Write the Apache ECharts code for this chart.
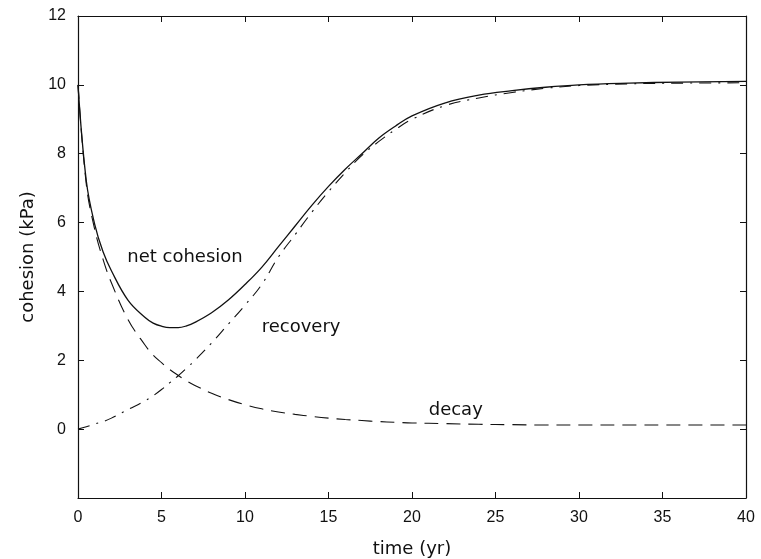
<!DOCTYPE html>
<html>
<head>
<meta charset="utf-8">
<script src="https://cdn.jsdelivr.net/npm/echarts@6/dist/echarts.min.js"></script>
<style>
  html, body { margin: 0; padding: 0; background: #fff; }
  #chart { width: 761px; height: 559px; }
</style>
</head>
<body>
<div id="chart"></div>
<script>
// time (yr)
const years = [0, 0.5, 1, 1.5, 2, 3, 4, 4.5, 5, 5.5, 6, 6.5, 7, 8, 9, 10, 11, 12, 13, 14, 15, 16, 17, 18, 19, 20, 22, 24, 26, 28, 30, 33, 36, 40];
// cohesion (kPa)
const netCohesion = [10, 7.2, 5.95, 5.15, 4.6, 3.74, 3.25, 3.08, 2.99, 2.95, 2.95, 3.0, 3.1, 3.38, 3.75, 4.2, 4.7, 5.3, 5.9, 6.5, 7.05, 7.55, 8.0, 8.45, 8.8, 9.1, 9.48, 9.7, 9.83, 9.93, 10.0, 10.05, 10.08, 10.1];
const decay = [10, 7.1, 5.8, 4.93, 4.25, 3.18, 2.45, 2.15, 1.93, 1.73, 1.56, 1.4, 1.27, 1.04, 0.86, 0.71, 0.59, 0.5, 0.43, 0.37, 0.32, 0.28, 0.25, 0.22, 0.2, 0.18, 0.16, 0.14, 0.13, 0.12, 0.12, 0.12, 0.12, 0.12];
const recovery = [0, 0.07, 0.15, 0.22, 0.32, 0.57, 0.82, 0.97, 1.15, 1.35, 1.55, 1.77, 2.0, 2.5, 3.05, 3.6, 4.2, 5.0, 5.65, 6.3, 6.9, 7.45, 7.95, 8.35, 8.7, 9.0, 9.4, 9.62, 9.78, 9.9, 9.98, 10.03, 10.05, 10.06];
const xTicks = [0, 5, 10, 15, 20, 25, 30, 35, 40];
const yTicks = [0, 2, 4, 6, 8, 10, 12];

// labels placed in data coordinates
const notes = [
	{ text: 'net cohesion', at: [2.95, 5.0] },
	{ text: 'recovery', at: [11.0, 2.96] },
	{ text: 'decay', at: [21.0, 0.55] }
];

const font = 'Liberation Sans, Arial, sans-serif';
const wideFont = 'DejaVu Sans, sans-serif';
const ink = '#111';

const pairs = (ys) => years.map((t, i) => [t, ys[i]]);

const myChart = echarts.init(document.getElementById('chart'));

const axisCommon = {
	axisLine: { show: true, onZero: false, lineStyle: { color: ink, width: 1.2 } },
	axisTick: { show: true, inside: true, length: 6, lineStyle: { color: ink } },
	splitLine: { show: false },
	axisLabel: { color: ink, fontFamily: font, fontSize: 16 }
};

const option = {
	backgroundColor: '#fff',
	animation: false,
	grid: { left: 78, right: 15, top: 16, bottom: 61, outerBoundsMode: 'none' },
	xAxis: [
		Object.assign({}, axisCommon, {
			type: 'value', min: 0, max: 40, interval: 5,
			name: 'time (yr)', nameLocation: 'middle', nameGap: 42,
			nameTextStyle: { color: ink, fontFamily: wideFont, fontSize: 18 },
			axisLabel: Object.assign({}, axisCommon.axisLabel, {
				margin: 12,
				formatter: (v) => xTicks.includes(v) ? String(v) : ''
			})
		}),
		Object.assign({}, axisCommon, {
			type: 'value', min: 0, max: 40, interval: 5, position: 'top',
			axisLabel: { show: false }
		})
	],
	yAxis: [
		Object.assign({}, axisCommon, {
			type: 'value', min: -2, max: 12, interval: 2,
			name: 'cohesion (kPa)', nameLocation: 'middle', nameGap: 38, nameRotate: 90,
			nameTextStyle: { color: ink, fontFamily: wideFont, fontSize: 18 },
			axisLabel: Object.assign({}, axisCommon.axisLabel, {
				margin: 12,
				formatter: (v) => yTicks.includes(v) ? String(v) : ''
			})
		}),
		Object.assign({}, axisCommon, {
			type: 'value', min: -2, max: 12, interval: 2, position: 'right',
			axisLabel: { show: false }
		})
	],
	series: [
		{
			name: 'net cohesion', type: 'line', smooth: 0.4, symbol: 'none',
			data: pairs(netCohesion),
			lineStyle: { color: ink, width: 1.3, type: 'solid' }
		},
		{
			name: 'decay', type: 'line', smooth: 0.4, symbol: 'none',
			data: pairs(decay),
			lineStyle: { color: ink, width: 1.1, type: [14, 8] }
		},
		{
			name: 'recovery', type: 'line', smooth: 0.4, symbol: 'none',
			data: pairs(recovery),
			lineStyle: { color: ink, width: 1.1, type: [12, 7, 2, 7] }
		}
	]
};

myChart.setOption(option);

myChart.setOption({
	graphic: notes.map((n) => {
		const p = myChart.convertToPixel({ xAxisIndex: 0, yAxisIndex: 0 }, n.at);
		return {
			type: 'text', x: p[0], y: p[1],
			style: { text: n.text, fill: ink, font: '18px ' + wideFont, verticalAlign: 'middle' }
		};
	})
});
</script>
</body>
</html>
